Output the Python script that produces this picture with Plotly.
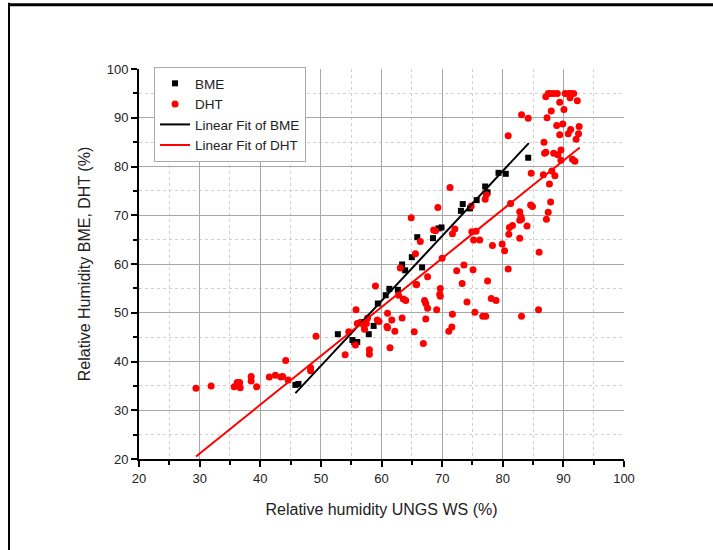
import plotly.graph_objects as go

# BME sensor vs UNGS weather station
bme_x = [45.8, 46.3, 52.8, 55.2, 55.5, 56.0, 57.9, 58.7, 56.8, 59.4, 60.7, 61.3, 62.7,
         63.4, 63.9, 65.0, 65.9, 66.7, 68.5, 69.4, 69.9, 73.1, 73.4, 74.6, 75.7, 77.1,
         77.5, 79.3, 80.5, 84.2]
bme_y = [35.2, 35.4, 45.6, 44.4, 44.0, 44.0, 45.6, 47.3, 48.1, 51.9, 53.6, 54.9, 54.7,
         59.9, 58.7, 61.4, 65.5, 59.3, 65.3, 67.3, 67.5, 70.9, 72.3, 71.4, 73.1, 75.9,
         74.7, 78.7, 78.5, 81.8]

# DHT sensor vs UNGS weather station
dht_x = [29.4, 31.9, 35.7, 36.2, 36.6, 36.7, 38.5, 38.5, 39.4, 41.5, 42.5, 43.4, 43.7,
         44.2, 44.6, 48.3, 48.3, 49.2, 54.0, 54.6, 55.7, 55.8, 56.0, 56.5, 57.0, 57.5,
         57.2, 58.0, 58.0, 59.0, 59.6, 57.7, 59.3, 60.9, 61.7, 61.0, 63.4, 63.6, 64.0,
         63.1, 64.9, 66.4, 65.6, 65.7, 65.8, 67.6, 67.3, 67.1, 67.6, 67.3, 62.8, 61.0,
         62.2, 61.4, 65.4, 66.9, 69.3, 71.3, 68.6, 68.9, 72.1, 71.7, 74.8, 77.1, 77.3,
         74.9, 75.6, 75.2, 76.2, 78.3, 79.9, 80.3, 80.9, 81.3, 81.1, 81.6, 81.0, 82.8,
         83.0, 82.8, 83.1, 84.0, 82.8, 84.6, 84.9, 84.7, 83.1, 84.2, 86.0, 86.7, 86.8,
         86.9, 87.1, 87.3, 87.1, 87.5, 87.9, 88.4, 89.0, 88.0, 88.9, 88.4, 89.1, 89.6,
         89.4, 90.1, 89.9, 89.4, 90.3, 90.9, 91.2, 91.7, 91.1, 92.3, 90.8, 91.2, 92.6,
         92.5, 92.1, 88.1, 88.6, 89.6, 91.5, 91.9, 87.7, 87.9, 87.5, 87.2, 70.0, 73.6,
         72.4, 75.1, 73.3, 77.5, 80.9, 85.9, 83.1, 69.7, 69.6, 69.7, 69.1, 74.1, 78.1,
         78.9, 75.4, 71.7, 76.7, 77.2, 71.6, 71.1]
dht_y = [34.5, 35.0, 34.8, 35.7, 35.7, 34.6, 36.9, 36.0, 34.8, 36.8, 37.2, 36.8, 36.9,
         40.2, 36.2, 38.7, 38.1, 45.2, 41.4, 46.1, 43.4, 50.6, 47.8, 48.0, 47.6, 47.8,
         46.6, 42.4, 41.5, 55.5, 48.2, 48.9, 48.5, 47.2, 48.5, 49.9, 48.9, 52.8, 52.5,
         59.2, 69.5, 64.6, 62.1, 55.8, 55.8, 57.4, 51.9, 52.5, 50.9, 48.7, 53.6, 46.9,
         46.2, 42.8, 46.1, 43.7, 71.6, 75.7, 67.0, 66.8, 67.2, 66.2, 71.9, 73.3, 74.2,
         66.6, 66.7, 64.9, 64.9, 63.8, 64.1, 62.7, 86.3, 72.4, 67.5, 67.9, 66.1, 70.7,
         69.7, 69.0, 69.2, 67.8, 65.3, 72.1, 71.8, 78.6, 90.6, 89.9, 62.4, 78.3, 85.0,
         82.7, 82.9, 90.0, 94.3, 95.0, 95.0, 95.0, 95.0, 91.4, 88.4, 82.7, 82.4, 83.4,
         93.2, 91.7, 88.7, 86.5, 95.0, 95.0, 95.0, 95.0, 94.1, 93.5, 86.7, 87.6, 88.2,
         86.7, 85.6, 79.1, 78.1, 81.3, 81.5, 81.1, 76.4, 72.7, 70.6, 69.2, 61.2, 59.8,
         58.6, 58.8, 56.0, 56.5, 59.0, 50.6, 49.3, 55.0, 53.8, 53.4, 50.6, 52.2, 52.9,
         52.5, 50.1, 49.7, 49.3, 49.3, 47.1, 46.2]

# linear fit endpoints
fit_bme_x = [45.8, 84.3]
fit_bme_y = [33.5, 84.8]
fit_dht_x = [29.4, 92.7]
fit_dht_y = [20.5, 83.9]

font = "Arial, Liberation Sans, sans-serif"

fig = go.Figure()
fig.add_trace(go.Scatter(x=bme_x, y=bme_y, mode="markers", name="BME",
                         marker=dict(symbol="square", size=6, color="black")))
fig.add_trace(go.Scatter(x=dht_x, y=dht_y, mode="markers", name="DHT",
                         marker=dict(symbol="circle", size=7, color="#ff0000")))
fig.add_trace(go.Scatter(x=fit_bme_x, y=fit_bme_y, mode="lines", name="Linear Fit of BME",
                         line=dict(color="black", width=2)))
fig.add_trace(go.Scatter(x=fit_dht_x, y=fit_dht_y, mode="lines", name="Linear Fit of DHT",
                         line=dict(color="#ff0000", width=2)))

axis = dict(
    range=[20, 100], dtick=10, tick0=20,
    showline=True, linecolor="black", linewidth=2,
    ticks="outside", ticklen=6, tickwidth=1.5, tickcolor="black",
    showgrid=True, gridcolor="#a8a8a8", gridwidth=1,
    zeroline=False, tickfont=dict(size=13, color="#222", family=font),
    minor=dict(dtick=5, ticks="outside", ticklen=4, tickwidth=1.5, tickcolor="black",
               showgrid=True, gridcolor="#d0d0d0", griddash="dot", gridwidth=1),
)

fig.update_layout(
    width=713, height=550,
    margin=dict(l=139, r=89, t=69, b=91),
    paper_bgcolor="white", plot_bgcolor="white",
    font=dict(family=font, color="#222"),
    xaxis=dict(axis, title=dict(text="Relative humidity UNGS WS (%)",
                                font=dict(size=16), standoff=19)),
    yaxis=dict(axis, title=dict(text="Relative Humidity BME, DHT (%)",
                                font=dict(size=16), standoff=12)),
    legend=dict(x=0.031, y=1.005, xanchor="left", yanchor="top",
                bgcolor="white", bordercolor="#aaaaaa", borderwidth=1,
                font=dict(size=13.5), tracegroupgap=0),
    showlegend=True,
    shapes=[
        dict(type="line", xref="paper", yref="paper", x0=-0.27, x1=1.2,
             y0=1.165, y1=1.165, line=dict(color="black", width=3)),
        dict(type="line", xref="paper", yref="paper", x0=-0.268, x1=-0.268,
             y0=1.17, y1=-0.3, line=dict(color="black", width=2)),
    ],
)

fig.write_html("out.html", config={"displayModeBar": False},
               post_script="document.body.style.margin='0';")
